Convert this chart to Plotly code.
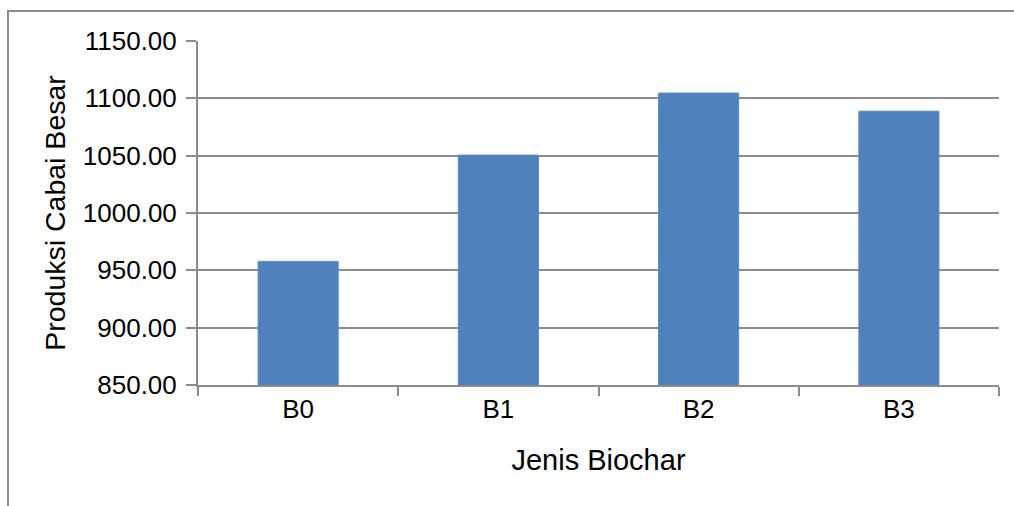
import plotly.graph_objects as go

categories = ["B0", "B1", "B2", "B3"]
values = [957.8, 1050.5, 1104.6, 1088.8]
y_ticks = [850, 900, 950, 1000, 1050, 1100, 1150]
y_tick_labels = [f"{v:.2f}" for v in y_ticks]

W, H = 1014, 506
L, R, T, B = 198, 15, 41, 121
pw, ph = W - L - R, H - T - B

fig = go.Figure(go.Bar(
    x=categories, y=values,
    marker=dict(color="#4F81BD", line=dict(color="#5A8AC6", width=1)),
    width=0.4,
))

fam = "Liberation Sans, Arial, Helvetica, sans-serif"
tickfont = dict(family=fam, size=26, color="#000000")
xtitlefont = dict(family=fam, size=29, color="#000000")
ytitlefont = dict(family=fam, size=28.5, color="#000000")

fig.update_layout(
    width=W, height=H,
    margin=dict(l=L, r=R, t=T, b=B, pad=0),
    paper_bgcolor="white", plot_bgcolor="white",
    font=tickfont,
    showlegend=False,
    bargap=0.6,
    xaxis=dict(
        title=dict(text="Jenis Biochar", font=xtitlefont, standoff=26),
        showline=True, linecolor="#8C8C8C", linewidth=2,
        ticks="outside", ticklen=9, tickwidth=2, tickcolor="#8C8C8C",
        tickson="boundaries", showgrid=False,
        tickfont=tickfont,
    ),
    yaxis=dict(
        title=dict(text="Produksi Cabai Besar", font=ytitlefont, standoff=9),
        range=[850, 1150],
        tickvals=y_ticks, ticktext=y_tick_labels,
        showline=True, linecolor="#8C8C8C", linewidth=2,
        ticks="outside", ticklen=10, tickwidth=2, tickcolor="#8C8C8C",
        ticklabelstandoff=4,
        showgrid=True, gridcolor="#8C8C8C", gridwidth=2,
        zeroline=False,
        tickfont=tickfont,
    ),
)

# outer chart frame (partially cropped in the reference)
fig.add_shape(
    type="rect", xref="paper", yref="paper",
    x0=(8 - L) / pw, x1=1.2, y0=-1.0, y1=1 + (T - 11) / ph,
    line=dict(color="#8C8C8C", width=2), fillcolor="rgba(0,0,0,0)",
    layer="below",
)

fig.write_html("out.html", config={"displayModeBar": False},
               post_script="document.body.style.margin='0px';")
